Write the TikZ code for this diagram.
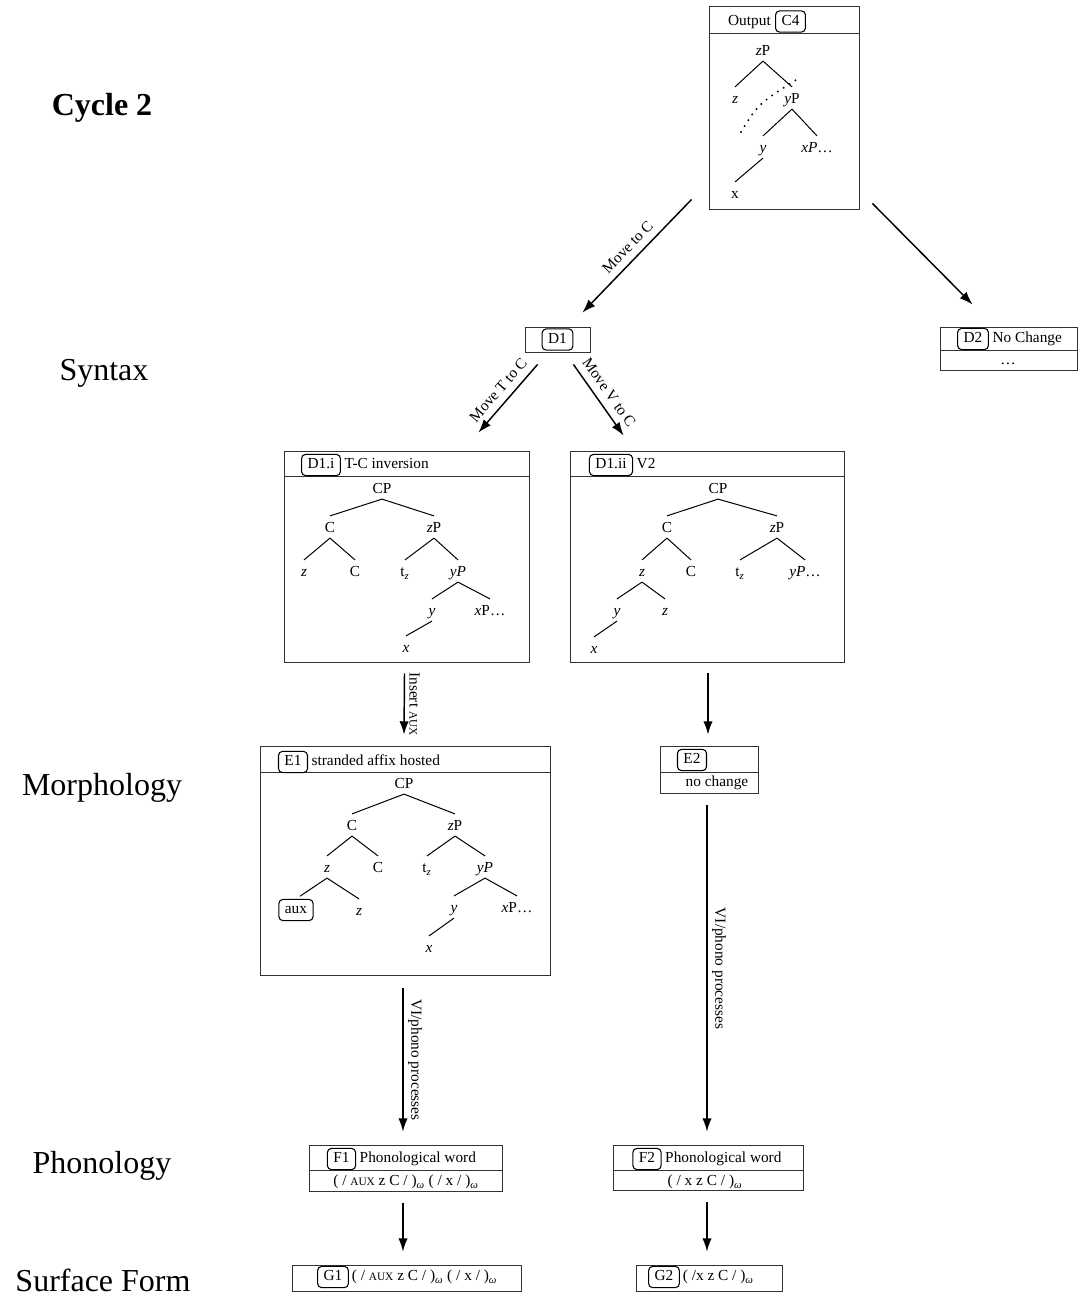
\documentclass[tikz,border=0pt]{standalone}
\usepackage{fontspec}
\setmainfont{Liberation Serif}
\usetikzlibrary{calc, positioning}
\usetikzlibrary{arrows.meta}

\newcommand{\smc}[1]{{\fontsize{8.5}{9}\selectfont #1}}
\newcommand{\wsub}{\textsubscript{\textit{ω}}}

\tikzset{
  panel/.style={draw=black!80, line width=0.6pt, inner sep=0pt},
  tag/.style={draw, rounded corners=3pt, line width=0.8pt, inner xsep=4.5pt, inner ysep=2.5pt, text height=8.3pt, text depth=2.6pt},
  hd/.style={inner sep=0pt, text height=8.3pt, text depth=2.6pt},
  tn/.style={inner xsep=1pt, inner ysep=0pt, text height=12.5pt, text depth=3.75pt},
  branch/.style={line width=0.75pt},
  trace/.style={line width=1.6pt, line cap=round, dash pattern=on 0pt off 5.2pt},
  flow/.style={line width=1.1pt, -{Latex[length=10pt, width=7pt]}},
  side/.style={font=\fontsize{24}{28}\selectfont}
}

\begin{document}
\begin{tikzpicture}[x=0.75pt, y=-0.75pt, font=\fontsize{11.5}{13.5}\selectfont]
\useasboundingbox (0,0) rectangle (1078,1299);

% Level labels
\node[side, font=\fontsize{24}{28}\selectfont\bfseries] (cycle) at (102,108) {Cycle 2};
\node[side] (syntax) at (104,373) {Syntax};
\node[side] (morph) at (102,788) {Morphology};
\node[side] (phon) at (102,1166) {Phonology};
\node[side] (surf) at (103,1280) {Surface Form};

% Output box C4
\node[panel, minimum width=150*0.75pt, minimum height=203*0.75pt] (c4) at (784,107.5) {};
\draw[panel] ($(c4.north west)+(0,28)$) -- ($(c4.north east)+(0,28)$);
\node[tag] (c4tag) at (790.5,21.5) {C4};
\node[hd, left=3pt of c4tag] (c4head) {Output};
\node[tn] (c4zp) at (763,50) {\textit{z}P};
\node[tn] (c4z) at (735,98) {\textit{z}};
\node[tn] (c4yp) at (792,98) {\textit{y}P};
\node[tn] (c4y) at (763,147) {\textit{y}};
\node[tn] (c4xp) at (817,147) {\textit{xP}\ldots};
\node[tn] (c4x) at (735,193) {x};
\draw[branch] (c4zp.south) -- (c4z.north);
\draw[branch] (c4zp.south) -- (c4yp.north);
\draw[branch] (c4yp.south) -- (c4y.north);
\draw[branch] (c4yp.south) -- (c4xp.north);
\draw[branch] (c4y.south) -- (c4x.north);
\coordinate (c4from) at (741,132);
\coordinate (c4to) at (799,78);
\draw[trace] (c4from) .. controls (758,104) .. (c4to);

% Syntax: D1 and D2
\node[panel, minimum width=65*0.75pt, minimum height=25*0.75pt] (d1) at (557.5,339.5) {};
\node[tag] (d1tag) at (557.5,339.5) {D1};

\node[panel, minimum width=137*0.75pt, minimum height=43*0.75pt] (d2) at (1008.5,348.5) {};
\draw[panel] ($(d2.north west)+(0,24)$) -- ($(d2.north east)+(0,24)$);
\node[tag] (d2tag) at (973,339) {D2};
\node[hd, right=2.5pt of d2tag] (d2head) {No Change};
\node[hd] (d2body) at (1008,361) {\ldots};

\draw[flow] ($(c4.south west)+(-17,-10)$) -- node[midway, sloped, above=2pt] {Move to C} ($(d1.north east)+(-8,-14)$);
\draw[flow] ($(c4.south east)+(13,-6)$) -- ($(d2.north west)+(33,-22)$);

% D1.i  T-C inversion
\node[panel, minimum width=245*0.75pt, minimum height=211*0.75pt] (d1i) at (406.5,556.5) {};
\draw[panel] ($(d1i.north west)+(0,26)$) -- ($(d1i.north east)+(0,26)$);
\node[tag] (d1itag) at (321,465) {D1.i};
\node[hd, right=2.5pt of d1itag] (d1ihead) {T-C inversion};
\node[tn] (d1icp) at (382,488) {CP};
\node[tn] (d1ic) at (330,527) {C};
\node[tn] (d1izp) at (434,527) {\textit{z}P};
\node[tn] (d1iz) at (304,571) {\textit{z}};
\node[tn] (d1ic2) at (355,571) {C};
\node[tn] (d1itz) at (405,571) {t\textsubscript{\textit{z}}};
\node[tn] (d1iyp) at (458,571) {\textit{yP}};
\node[tn] (d1iy) at (432,610) {\textit{y}};
\node[tn] (d1ixp) at (490,610) {\textit{x}P\ldots};
\node[tn] (d1ix) at (406,647) {\textit{x}};
\draw[branch] (d1icp.south) -- (d1ic.north);
\draw[branch] (d1icp.south) -- (d1izp.north);
\draw[branch] (d1ic.south) -- (d1iz.north);
\draw[branch] (d1ic.south) -- (d1ic2.north);
\draw[branch] (d1izp.south) -- (d1itz.north);
\draw[branch] (d1izp.south) -- (d1iyp.north);
\draw[branch] (d1iyp.south) -- (d1iy.north);
\draw[branch] (d1iyp.south) -- (d1ixp.north);
\draw[branch] (d1iy.south) -- (d1ix.north);

% D1.ii  V2
\node[panel, minimum width=274*0.75pt, minimum height=211*0.75pt] (d1ii) at (707,556.5) {};
\draw[panel] ($(d1ii.north west)+(0,26)$) -- ($(d1ii.north east)+(0,26)$);
\node[tag] (d1iitag) at (611,465) {D1.ii};
\node[hd, right=2.5pt of d1iitag] (d1iihead) {V2};
\node[tn] (d1iicp) at (718,488) {CP};
\node[tn] (d1iic) at (667,527) {C};
\node[tn] (d1iizp) at (777,527) {\textit{z}P};
\node[tn] (d1iiz) at (642,571) {\textit{z}};
\node[tn] (d1iic2) at (691,571) {C};
\node[tn] (d1iitz) at (740,571) {t\textsubscript{\textit{z}}};
\node[tn] (d1iiyp) at (805,571) {\textit{yP}\ldots};
\node[tn] (d1iiy) at (617,610) {\textit{y}};
\node[tn] (d1iiz2) at (665,610) {\textit{z}};
\node[tn] (d1iix) at (594,648) {\textit{x}};
\draw[branch] (d1iicp.south) -- (d1iic.north);
\draw[branch] (d1iicp.south) -- (d1iizp.north);
\draw[branch] (d1iic.south) -- (d1iiz.north);
\draw[branch] (d1iic.south) -- (d1iic2.north);
\draw[branch] (d1iizp.south) -- (d1iitz.north);
\draw[branch] (d1iizp.south) -- (d1iiyp.north);
\draw[branch] (d1iiz.south) -- (d1iiy.north);
\draw[branch] (d1iiz.south) -- (d1iiz2.north);
\draw[branch] (d1iiy.south) -- (d1iix.north);

\draw[flow] ($(d1.south west)+(13,12)$) -- node[midway, sloped, above=2pt] {Move T to C} ($(d1i.north east)+(-51,-18)$);
\draw[flow] ($(d1.south east)+(-17,12)$) -- node[midway, sloped, above=2pt] {Move V to C} ($(d1ii.north west)+(54,-15)$);

% Morphology: E1 stranded affix hosted
\node[panel, minimum width=290*0.75pt, minimum height=229*0.75pt] (e1) at (405,860.5) {};
\draw[panel] ($(e1.north west)+(0,27)$) -- ($(e1.north east)+(0,27)$);
\node[tag] (e1tag) at (293,762) {E1};
\node[hd, right=2.5pt of e1tag] (e1head) {stranded affix hosted};
\node[tn] (e1cp) at (404,783) {CP};
\node[tn] (e1c) at (352,825) {C};
\node[tn] (e1zp) at (455,825) {\textit{z}P};
\node[tn] (e1z) at (327,867) {\textit{z}};
\node[tn] (e1c2) at (378,867) {C};
\node[tn] (e1tz) at (427,867) {t\textsubscript{\textit{z}}};
\node[tn] (e1yp) at (485,867) {\textit{yP}};
\node[tag] (e1aux) at (296,910) {aux};
\node[tn] (e1z2) at (359,910) {\textit{z}};
\node[tn] (e1y) at (454,907) {\textit{y}};
\node[tn] (e1xp) at (517,907) {\textit{x}P\ldots};
\node[tn] (e1x) at (429,947) {\textit{x}};
\draw[branch] (e1cp.south) -- (e1c.north);
\draw[branch] (e1cp.south) -- (e1zp.north);
\draw[branch] (e1c.south) -- (e1z.north);
\draw[branch] (e1c.south) -- (e1c2.north);
\draw[branch] (e1zp.south) -- (e1tz.north);
\draw[branch] (e1zp.south) -- (e1yp.north);
\draw[branch, shorten >=3.5pt] (e1z.south) -- (e1aux.north);
\draw[branch] (e1z.south) -- (e1z2.north);
\draw[branch] (e1yp.south) -- (e1y.north);
\draw[branch] (e1yp.south) -- (e1xp.north);
\draw[branch] (e1y.south) -- (e1x.north);

% E2 no change
\node[panel, minimum width=98*0.75pt, minimum height=47*0.75pt] (e2) at (709,769.5) {};
\draw[panel] ($(e2.north west)+(0,27)$) -- ($(e2.north east)+(0,27)$);
\node[tag] (e2tag) at (692,760) {E2};
\node[hd] (e2body) at (717,783) {no change};

\draw[flow] ($(d1i.south)+(-2,11)$) -- node[midway, rotate=-90, anchor=south] {Insert \smc{AUX}} ($(e1.north)+(-1,-11)$);
\draw[flow] ($(d1ii.south)+(1,11)$) -- ($(e2.north)+(-1,-11)$);

% Phonology
\node[panel, minimum width=193*0.75pt, minimum height=46*0.75pt] (f1) at (405.5,1168) {};
\draw[panel] ($(f1.north west)+(0,26)$) -- ($(f1.north east)+(0,26)$);
\node[tag] (f1tag) at (341.5,1159) {F1};
\node[hd, right=2.5pt of f1tag] (f1head) {Phonological word};
\node[hd] (f1body) at (406,1182) {( / \smc{AUX} z C / )\wsub{} ( / x / )\wsub};

\node[panel, minimum width=190*0.75pt, minimum height=45*0.75pt] (f2) at (708,1167.5) {};
\draw[panel] ($(f2.north west)+(0,26)$) -- ($(f2.north east)+(0,26)$);
\node[tag] (f2tag) at (647,1159) {F2};
\node[hd, right=2.5pt of f2tag] (f2head) {Phonological word};
\node[hd] (f2body) at (705,1182) {( / x z C / )\wsub};

\draw[flow] ($(e1.south)+(-2,13)$) -- node[midway, rotate=-90, anchor=south] {VI/phono processes} ($(f1.north)+(-2.5,-13)$);
\draw[flow] ($(e2.south)+(-2,12)$) -- node[midway, rotate=-90, anchor=south] {VI/phono processes} ($(f2.north)+(-1,-13)$);

% Surface form
\node[panel, minimum width=229*0.75pt, minimum height=26*0.75pt] (g1) at (406.5,1278) {};
\node[tag] (g1tag) at (333,1277) {G1};
\node[hd, right=2pt of g1tag] (g1body) {( / \smc{AUX} z C / )\wsub{} ( / x / )\wsub};

\node[panel, minimum width=146*0.75pt, minimum height=26*0.75pt] (g2) at (709,1278) {};
\node[tag] (g2tag) at (664,1277) {G2};
\node[hd, right=2pt of g2tag] (g2body) {( /x z C / )\wsub};

\draw[flow] ($(f1.south)+(-2.5,12)$) -- ($(g1.north)+(-3.5,-13)$);
\draw[flow] ($(f2.south)+(-1,12)$) -- ($(g2.north)+(-2,-13)$);
\end{tikzpicture}
\end{document}
